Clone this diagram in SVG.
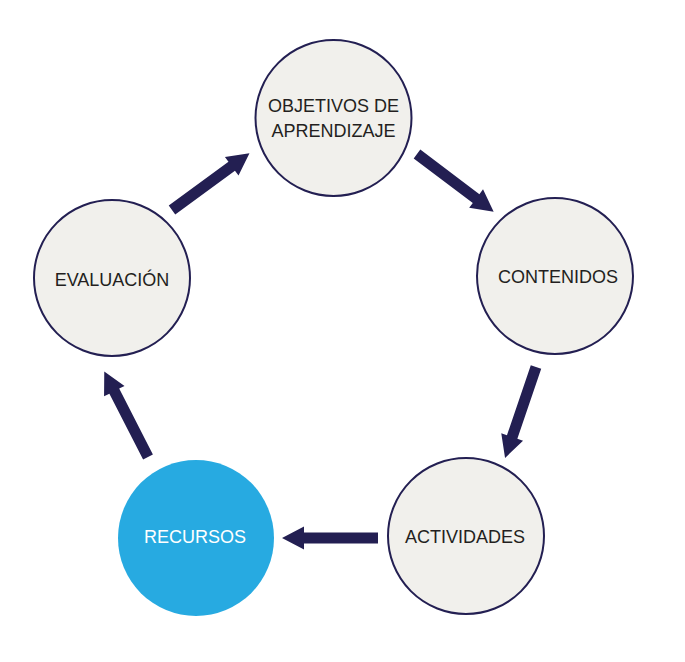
<svg xmlns="http://www.w3.org/2000/svg" xmlns:xlink="http://www.w3.org/1999/xlink" width="685" height="662" viewBox="0 0 685 662">
<style>
.node{fill:#f1f0ec;stroke:#231f52;stroke-width:2}
.blue{fill:#27aae1}
.lbl{font-family:"Liberation Sans",Arial,sans-serif;font-size:18px;fill:#231f20;text-anchor:middle}
.wlbl{font-family:"Liberation Sans",Arial,sans-serif;font-size:18px;fill:#ffffff;text-anchor:middle}
.arrow{fill:#231f52}
</style>
<defs>
<path id="arr" class="arrow" d="M0,-5.5 L74,-5.5 L74,-11.5 L96,0 L74,11.5 L74,5.5 L0,5.5 Z"/>
</defs>
<rect width="685" height="662" fill="#ffffff"/>
<g id="connectors">
<use xlink:href="#arr" transform="translate(172,210) rotate(-36.2)"/>
<use xlink:href="#arr" transform="translate(417,154) rotate(37)"/>
<use xlink:href="#arr" transform="translate(536,367) rotate(108.8)"/>
<use xlink:href="#arr" transform="translate(378,538) rotate(180)"/>
<use xlink:href="#arr" transform="translate(148,457) rotate(-117.1)"/>
</g>
<g id="objetivos">
<circle class="node" cx="333.5" cy="118" r="78"/>
<text class="lbl" x="333.5" y="112">OBJETIVOS DE</text>
<text class="lbl" x="333.5" y="137">APRENDIZAJE</text>
</g>
<g id="contenidos">
<circle class="node" cx="555" cy="276" r="78"/>
<text class="lbl" x="558" y="283">CONTENIDOS</text>
</g>
<g id="actividades">
<circle class="node" cx="466" cy="536" r="78"/>
<text class="lbl" x="465" y="543">ACTIVIDADES</text>
</g>
<g id="recursos">
<circle class="blue" cx="196" cy="538" r="78"/>
<text class="wlbl" x="195" y="543">RECURSOS</text>
</g>
<g id="evaluacion">
<circle class="node" cx="112" cy="278" r="78"/>
<text class="lbl" x="112" y="286">EVALUACIÓN</text>
</g>
</svg>
